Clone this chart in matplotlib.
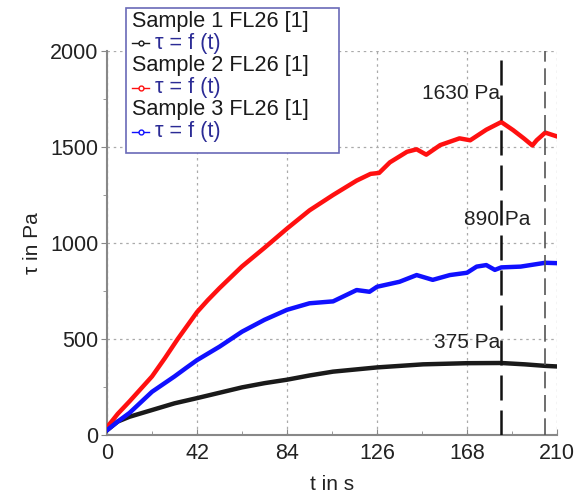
import matplotlib
matplotlib.use("Agg")
import matplotlib.pyplot as plt
from matplotlib.lines import Line2D
from matplotlib.patches import Rectangle

plt.rcParams['font.family'] = ['Liberation Sans', 'DejaVu Sans']

# data (t in s, tau in Pa)
black_t = [0, 5, 10.5, 21, 31.5, 42, 52.5, 63, 73.5, 84, 94.5, 105.5, 126, 147.5, 168, 184, 195, 204.5, 210]
black_v = [25, 70, 95, 130, 165, 192, 220, 248, 270, 288, 310, 330, 352, 368, 374, 375, 368, 360, 357]

red_t = [0, 5, 10.5, 21, 27, 33, 42, 47, 52.5, 63, 73.5, 84, 94.5, 105.5, 116.5, 123, 127, 132, 140, 144.5,
         149, 155.5, 164.5, 169.5, 177, 184, 189.5, 194.5, 198.5, 200.5, 204.5, 210]
red_v = [40, 110, 175, 305, 400, 500, 640, 702, 765, 878, 975, 1075, 1170, 1250, 1325, 1360, 1365, 1420, 1475, 1488,
         1460, 1510, 1545, 1535, 1590, 1630, 1588, 1545, 1508, 1535, 1575, 1555]

blue_t = [0, 5, 10.5, 21, 31.5, 37, 42, 52.5, 63, 73.5, 84, 94.5, 105.5, 116.5, 122.5, 126, 136.5,
          144.5, 152, 160, 168, 172.5, 177, 181, 184, 193, 204.5, 210]
blue_v = [25, 70, 115, 225, 305, 350, 390, 460, 538, 600, 652, 686, 696, 755, 746, 772, 798,
          833, 808, 833, 845, 877, 885, 860, 873, 877, 897, 895]

x_ticks = [0, 42, 84, 126, 168, 210]
y_ticks = [0, 500, 1000, 1500, 2000]
legend_titles = ["Sample 1 FL26 [1]", "Sample 2 FL26 [1]", "Sample 3 FL26 [1]"]
colors = ["#1a1a1a", "#ff1010", "#1010ff"]

peak_t = 184
end_t = 204.5
annotations = [("1630 Pa", 183.5, 1780, "right"),
               ("890 Pa", 182, 1120, "center"),
               ("375 Pa", 183.5, 480, "right")]

fig = plt.figure(figsize=(5.83, 4.97), dpi=100)
ax = fig.add_axes([107 / 583, 1 - 435 / 497, 450 / 583, 384 / 497])

for t, v, c in [(black_t, black_v, colors[0]), (red_t, red_v, colors[1]), (blue_t, blue_v, colors[2])]:
    ax.plot(t, v, color=c, lw=3.2, solid_joinstyle='round', zorder=3)

ax.axvline(peak_t, color="#111111", lw=1.8, dashes=(10, 4), zorder=4)
ax.axvline(end_t, color="#555555", lw=1.2, dashes=(10, 4), zorder=4)

for txt, tx, ty, ha in annotations:
    ax.text(tx, ty, txt, ha=ha, va='center', fontsize=15, color="#222222", zorder=5)

ax.set_xlim(0, 210)
ax.set_ylim(0, 2000)
ax.set_xticks(x_ticks)
ax.set_yticks(y_ticks)
ax.set_xticks([21, 63, 105, 147, 189], minor=True)
ax.set_yticks([250, 750, 1250, 1750], minor=True)
ax.grid(True, which='major', ls=(0, (2, 3)), color="#aaaaaa", lw=0.9)
ax.set_axisbelow(True)

for side in ['top', 'right']:
    ax.spines[side].set_visible(False)
for side in ['left', 'bottom']:
    ax.spines[side].set_color("#888888")
    ax.spines[side].set_linewidth(1.5)

ax.tick_params(axis='x', which='both', direction='in', colors="#888888", labelcolor="#222222",
               labelsize=15.5, length=4, pad=6)
ax.tick_params(axis='y', which='both', direction='out', colors="#888888", labelcolor="#222222",
               labelsize=15.5, length=4, pad=2)
ax.tick_params(which='minor', length=3)

ax.set_xlabel("t in s", fontsize=15, color="#222222", labelpad=8)
ax.set_ylabel("τ in Pa", fontsize=15, color="#222222", labelpad=6)

# legend box drawn by hand to match the reference layout
W, H = 583, 497
fig.patches.append(Rectangle((126 / W, 1 - 153 / H), 213 / W, 145 / H, transform=fig.transFigure,
                             facecolor='white', edgecolor="#6a6ab8", lw=1.2, zorder=10))
row_y = [21, 43, 66, 88, 110, 132]
for i, title in enumerate(legend_titles):
    y_title = 1 - row_y[2 * i] / H
    y_line = 1 - row_y[2 * i + 1] / H
    fig.text(132 / W, y_title, title, fontsize=15.6, color="#1a1a1a", va='center', zorder=11)
    fig.lines.append(Line2D([132 / W, 149 / W], [y_line, y_line], transform=fig.transFigure,
                            color=colors[i], lw=1.0, zorder=11))
    fig.lines.append(Line2D([140.5 / W], [y_line], transform=fig.transFigure, marker='o', ms=3.5,
                            mfc='white', mec=colors[i], mew=1.0, ls='none', zorder=12))
    fig.text(155 / W, y_line, "τ = f (t)", fontsize=15.6, color="#2b2b95", va='center', zorder=11)

fig.savefig("out.png", dpi=100)
